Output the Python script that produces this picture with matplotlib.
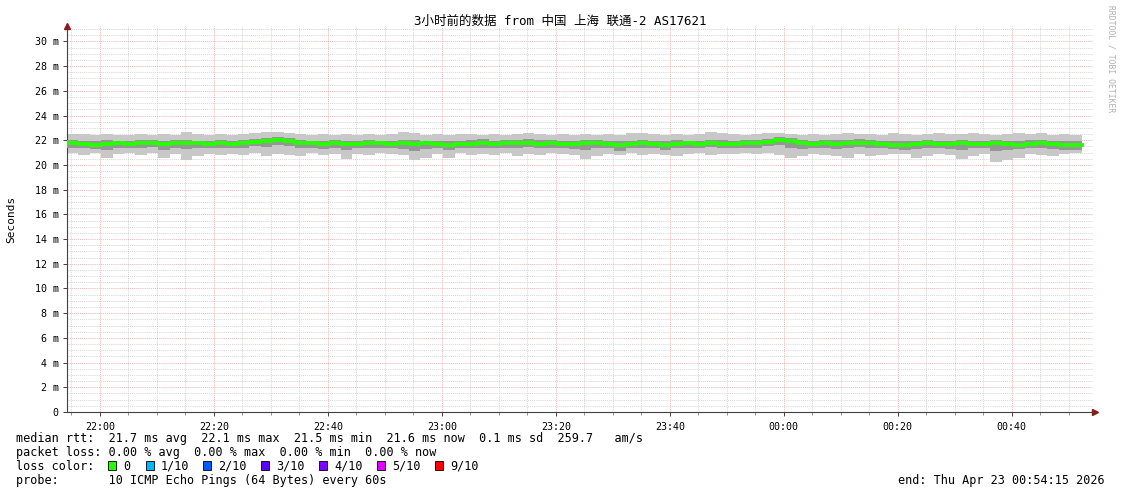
import numpy as np
import matplotlib
matplotlib.use("Agg")
import matplotlib.pyplot as plt
from matplotlib.patches import Rectangle
from matplotlib.ticker import FixedLocator

# data: 2-minute steps starting 21:54:15, values in ms
median = [21.8, 21.7, 21.65, 21.7, 21.75, 21.7, 21.75, 21.8, 21.7, 21.75,
          21.8, 21.75, 21.7, 21.75, 21.7, 21.8, 21.85, 21.9, 22.05, 21.95,
          21.8, 21.75, 21.7, 21.75, 21.7, 21.7, 21.75, 21.75, 21.7, 21.75,
          21.7, 21.75, 21.7, 21.65, 21.7, 21.7, 21.75, 21.7, 21.75, 21.8,
          21.8, 21.7, 21.75, 21.7, 21.7, 21.75, 21.8, 21.7, 21.6, 21.7,
          21.75, 21.7, 21.65, 21.7, 21.75, 21.7, 21.8, 21.7, 21.7, 21.75,
          21.75, 21.85, 22.0, 21.9, 21.75, 21.7, 21.75, 21.7, 21.75, 21.8,
          21.75, 21.7, 21.65, 21.6, 21.7, 21.75, 21.7, 21.7, 21.75, 21.7,
          21.7, 21.75, 21.7, 21.65, 21.7, 21.75, 21.7, 21.65, 21.6]
smoke_hi = [22.5, 22.5, 22.4, 22.5, 22.4, 22.4, 22.5, 22.4, 22.5, 22.4,
            22.7, 22.5, 22.4, 22.5, 22.4, 22.5, 22.6, 22.7, 22.7, 22.6,
            22.5, 22.4, 22.5, 22.4, 22.5, 22.4, 22.5, 22.4, 22.5, 22.7,
            22.6, 22.4, 22.5, 22.4, 22.5, 22.5, 22.4, 22.5, 22.4, 22.5,
            22.6, 22.5, 22.4, 22.5, 22.4, 22.5, 22.4, 22.5, 22.4, 22.6,
            22.6, 22.5, 22.4, 22.5, 22.4, 22.5, 22.7, 22.6, 22.5, 22.4,
            22.5, 22.6, 22.6, 22.5, 22.4, 22.5, 22.4, 22.5, 22.6, 22.5,
            22.5, 22.4, 22.6, 22.5, 22.4, 22.5, 22.6, 22.5, 22.5, 22.6,
            22.5, 22.4, 22.5, 22.6, 22.5, 22.6, 22.4, 22.5, 22.4]
smoke_lo = [21.0, 20.8, 21.0, 20.6, 20.9, 21.0, 20.8, 21.0, 20.6, 20.9,
            20.4, 20.7, 20.9, 20.8, 20.9, 20.8, 21.0, 20.7, 20.9, 20.8,
            20.7, 21.0, 20.8, 20.9, 20.5, 20.9, 20.8, 21.0, 20.9, 20.8,
            20.4, 20.6, 20.9, 20.6, 21.0, 20.8, 20.9, 20.8, 21.0, 20.7,
            20.9, 20.8, 21.0, 20.9, 20.8, 20.5, 20.7, 20.9, 20.8, 21.0,
            20.8, 20.9, 20.8, 20.7, 20.9, 21.0, 20.8, 20.9, 20.9, 21.0,
            20.9, 21.0, 20.8, 20.6, 20.7, 20.9, 20.8, 20.7, 20.6, 20.9,
            20.7, 20.8, 20.9, 20.9, 20.6, 20.7, 20.9, 20.8, 20.5, 20.7,
            20.9, 20.2, 20.4, 20.6, 20.9, 20.8, 20.7, 20.9, 21.0]
core_hi = [22.0, 21.95, 21.9, 22.0, 21.95, 21.9, 22.05, 22.0, 21.95, 22.0,
           22.05, 21.95, 21.9, 22.0, 21.95, 22.05, 22.1, 22.15, 22.3, 22.2,
           22.05, 21.95, 21.95, 22.0, 21.9, 21.95, 22.0, 21.95, 21.9, 22.05,
           22.05, 21.95, 21.9, 21.9, 21.95, 22.0, 22.1, 21.95, 22.0, 22.05,
           22.1, 22.0, 22.0, 21.95, 21.9, 22.0, 22.05, 21.95, 21.9, 21.95,
           22.0, 21.95, 21.9, 22.0, 21.95, 21.95, 22.05, 22.0, 21.95, 22.0,
           22.05, 22.1, 22.25, 22.15, 22.0, 21.95, 22.05, 22.0, 22.05, 22.1,
           22.0, 21.95, 21.9, 21.9, 21.95, 22.0, 21.95, 21.95, 22.0, 21.95,
           21.95, 22.0, 21.95, 21.95, 22.0, 22.05, 21.95, 21.9, 21.9]
core_lo = [21.4, 21.35, 21.3, 21.2, 21.4, 21.35, 21.4, 21.45, 21.25, 21.4,
           21.3, 21.4, 21.35, 21.4, 21.35, 21.4, 21.5, 21.45, 21.6, 21.5,
           21.4, 21.35, 21.3, 21.4, 21.2, 21.35, 21.4, 21.4, 21.35, 21.3,
           21.1, 21.3, 21.35, 21.2, 21.4, 21.35, 21.4, 21.35, 21.4, 21.4,
           21.45, 21.35, 21.4, 21.35, 21.3, 21.2, 21.4, 21.35, 21.1, 21.35,
           21.4, 21.35, 21.25, 21.35, 21.4, 21.35, 21.45, 21.35, 21.4, 21.4,
           21.4, 21.5, 21.6, 21.4, 21.3, 21.35, 21.4, 21.3, 21.35, 21.45,
           21.35, 21.35, 21.3, 21.2, 21.3, 21.4, 21.35, 21.3, 21.2, 21.35,
           21.35, 21.1, 21.25, 21.3, 21.35, 21.4, 21.3, 21.25, 21.2]

time_labels = ["22:00", "22:20", "22:40", "23:00", "23:20", "23:40", "00:00", "00:20", "00:40"]
y_values = [0, 2, 4, 6, 8, 10, 12, 14, 16, 18, 20, 22, 24, 26, 28, 30]

title = "3小时前的数据 from 中国 上海 联通-2 AS17621"
rtt_line = "median rtt:  21.7 ms avg  22.1 ms max  21.5 ms min  21.6 ms now  0.1 ms sd  259.7   am/s"
loss_line = "packet loss: 0.00 % avg  0.00 % max  0.00 % min  0.00 % now"
probe_line = "probe:       10 ICMP Echo Pings (64 Bytes) every 60s"
end_line = "end: Thu Apr 23 00:54:15 2026"
loss_names = ["0", "1/10", "2/10", "3/10", "4/10", "5/10", "9/10"]
loss_colors = ["#26ff00", "#00b8ff", "#0059ff", "#5e00ff", "#7e00ff", "#dd00ff", "#ff0000"]

W, H = 1121, 494
MONO = ["DejaVu Sans Mono", "Noto Sans CJK SC"]
plt.rcParams['font.family'] = MONO

fig = plt.figure(figsize=(W / 100, H / 100), dpi=100, facecolor='white')
ax = fig.add_axes([67 / W, 1 - 412 / H, (1093 - 67) / W, (412 - 26) / H])

step = 2
edges = np.arange(0, step * len(median) + 1, step)
ext = lambda a: list(a) + [a[-1]]

ax.fill_between(edges, ext(smoke_lo), ext(smoke_hi), step='post', color='#c8c8c8', lw=0, zorder=2)
ax.fill_between(edges, ext(core_lo), ext(core_hi), step='post', color='#969696', lw=0, zorder=3)
ax.step(edges, ext(median), where='post', color='#26ff00', lw=2.8, zorder=5)

ax.set_xlim(0, 180)
ax.set_ylim(0, 31.25)

# 22:00 is 5.75 minutes after 21:54:15
first_tick = 5.75
major_x = [first_tick + 20 * i for i in range(len(time_labels))]
minor_x = list(np.arange(first_tick - 5, 180, 5))
ax.xaxis.set_major_locator(FixedLocator(major_x))
ax.xaxis.set_minor_locator(FixedLocator(minor_x))
ax.set_xticklabels(time_labels)
ax.yaxis.set_major_locator(FixedLocator(y_values))
ax.yaxis.set_minor_locator(FixedLocator(list(np.arange(0, 31.25, 0.5))))
ax.set_yticklabels(["0" if v == 0 else f"{v} m" for v in y_values])

dots = (0, (1.5, 1.5))
ax.grid(which='minor', color='#c8c8c8', lw=0.5, ls=dots, zorder=1)
ax.grid(which='major', color='#f09a9a', lw=0.5, ls=dots, zorder=1)
ax.set_axisbelow(True)

ax.tick_params(which='major', labelsize=7.2, length=3, width=0.7, color='#404040', pad=3)
ax.tick_params(axis='y', which='minor', length=0)
ax.tick_params(axis='x', which='minor', length=2, width=0.6, color='#808080')
ax.tick_params(axis='x', pad=4)
for s in ['top', 'right']:
    ax.spines[s].set_visible(False)
for s in ['left', 'bottom']:
    ax.spines[s].set_color('#404040')
    ax.spines[s].set_linewidth(0.8)
ax.plot([0], [1.0], marker='^', color='#8b1a1a', ms=4, transform=ax.transAxes, clip_on=False)
ax.plot([1.002], [0], marker='>', color='#8b1a1a', ms=4, transform=ax.transAxes, clip_on=False)

def fx(x):
    return x / W

def fy(y):
    return 1 - y / H

fig.text(fx(560), fy(21), title, ha='center', va='center', fontsize=9, family=MONO)
fig.text(fx(11), fy(219), "Seconds", rotation=90, ha='center', va='center', fontsize=8)
fig.text(fx(1111), fy(5), "RRDTOOL / TOBI OETIKER", rotation=-90, ha='center', va='top',
         fontsize=5.8, color='#b0b0b0')

fs = 8.5
fig.text(fx(16), fy(438), rtt_line, ha='left', va='center', fontsize=fs)
fig.text(fx(16), fy(452), loss_line, ha='left', va='center', fontsize=fs)
fig.text(fx(16), fy(466), "loss color:", ha='left', va='center', fontsize=fs)
fig.text(fx(16), fy(480), probe_line, ha='left', va='center', fontsize=fs)
fig.text(fx(1105), fy(480), end_line, ha='right', va='center', fontsize=fs)

sq_x = [108, 145.5, 203, 261, 319, 377, 435]
for x0, name, col in zip(sq_x, loss_names, loss_colors):
    fig.patches.append(Rectangle((fx(x0), fy(469.5)), 8 / W, 8.5 / H, transform=fig.transFigure,
                                 facecolor=col, edgecolor='black', lw=0.6))
    fig.text(fx(x0 + 15), fy(466), name, ha='left', va='center', fontsize=fs)

fig.savefig("out.png", dpi=100, facecolor='white')
